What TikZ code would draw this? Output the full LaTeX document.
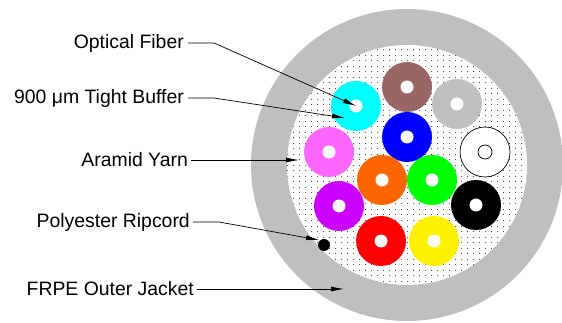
\documentclass[tikz,border=0pt]{standalone}
\usepackage{fontspec}
\setmainfont{Liberation Sans}
\usetikzlibrary{arrows.meta, positioning}
\usepackage{xcolor}
\definecolor{jacketgray}{RGB}{191,191,191}
\definecolor{fcyan}{RGB}{0,255,255}
\definecolor{fbrown}{RGB}{153,102,102}
\definecolor{fgray}{RGB}{192,192,192}
\definecolor{fpink}{RGB}{255,102,255}
\definecolor{forange}{RGB}{255,102,0}
\definecolor{fpurple}{RGB}{204,0,255}

\begin{document}
\begin{tikzpicture}[x=1pt,y=-1pt,-{Latex[length=13pt,width=5pt]},font=\fontsize{19.4}{22}\selectfont]
    \tikzstyle{tube}=[circle,minimum size=50pt,inner sep=0pt,draw=none]
    \tikzstyle{label}=[anchor=east,inner sep=0pt]
    \tikzstyle{lead}=[draw=black,line width=0.7pt]
    \useasboundingbox (0,0) rectangle (562,323);

    % jacket and aramid yarn
    \coordinate (C) at (407,165);
    \fill[jacketgray] (C) circle (156pt);
    \fill[white] (C) circle (120pt);
    \begin{scope}
        \clip (C) circle (120pt);
        \foreach \i in {-20,...,20}
            \foreach \j in {-22,...,22}
                \fill[black!70] (407+6*\i,165+5.5*\j) rectangle +(1,1);
    \end{scope}

    % buffered fibers
    \foreach \x/\y/\c/\n in {356/106/fcyan/F-1, 407/87/fbrown/F-2, 457/104/fgray/F-3,
        407/137/blue/F-4, 329/152/fpink/F-5, 382/180/forange/F-6, 432/180/green/F-7,
        339/206/fpurple/F-8, 476/205/black/F-9, 381/241/red/F-10, 434/241/yellow/F-11}
    {
        \node[tube,fill=\c] (\n) at (\x,\y) {};
        \fill[white] (\n) circle (6.5pt);
    }
    \node[tube,draw=black,line width=0.7pt,fill=white] (F-12) at (485,152) {};
    \draw[-,line width=0.7pt] (F-12) circle (7pt);

    % ripcord
    \node[circle,fill=black,minimum size=12pt,inner sep=0pt] (R) at (324,245) {};

    % labels
    \node[label] (fiber) at (184,43) {Optical Fiber};
    \node[label] (buffer) at (184,98) {900 μm Tight Buffer};
    \node[label] (yarn) at (188,160) {Aramid Yarn};
    \node[label] (cord) at (190,222) {Polyester Ripcord};
    \node[label] (jacket) at (194,289) {FRPE Outer Jacket};

    \coordinate (yarn-t) at (299,160);
    \coordinate (buffer-t) at (345,118);
    \coordinate (cord-t) at (319,240);
    \coordinate (jacket-t) at (344,289);

    \draw[lead] ([xshift=4pt]fiber.east) -- ++(26,0) -- (F-1.center);
    \draw[lead] ([xshift=4pt]buffer.east) -- ++(26,0) -- (buffer-t);
    \draw[lead] ([xshift=3pt]yarn.east) -- (yarn-t);
    \draw[lead] ([xshift=3pt]cord.east) -- ++(26,0) -- (cord-t);
    \draw[lead] ([xshift=3pt]jacket.east) -- (jacket-t);
\end{tikzpicture}
\end{document}
